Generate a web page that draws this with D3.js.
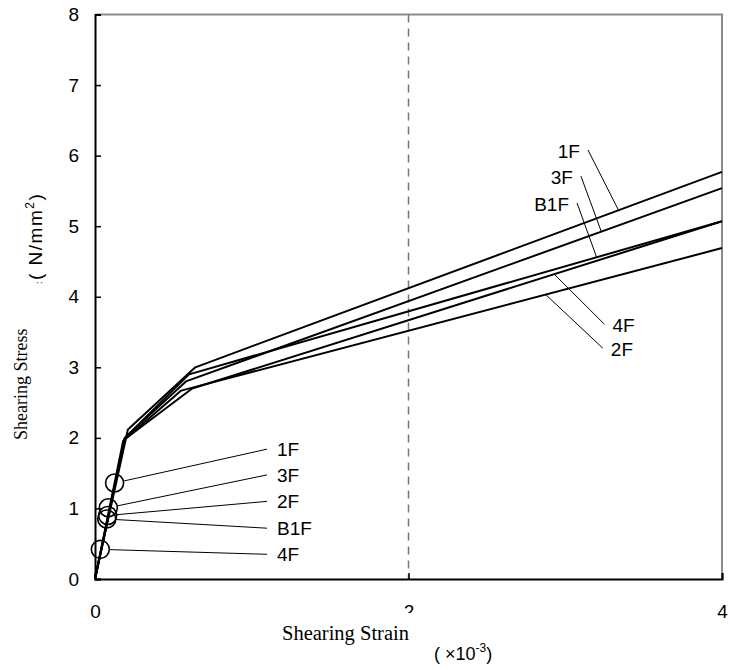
<!DOCTYPE html>
<meta charset="utf-8">
<style>
  body { margin: 0; background: #fff; }
  text { font-family: "Liberation Sans", Arial, sans-serif; }
  .serif { font-family: "Liberation Serif", "Times New Roman", serif; }
</style>
<svg width="730" height="670"></svg>
<script src="https://d3js.org/d3.v7.min.js"></script>
<script>
// floors and their tri-linear skeleton curves (strain x10^-3, stress N/mm2)
var floors = ["1F", "3F", "B1F", "4F", "2F"];
var strainPts = [
  [0, 0.21, 0.64, 4],
  [0, 0.19, 0.58, 4],
  [0, 0.19, 0.60, 4],
  [0, 0.19, 0.62, 4],
  [0, 0.18, 0.55, 4]
];
var stressPts = [
  [0, 2.12, 3.00, 5.77],
  [0, 2.00, 2.80, 5.54],
  [0, 2.00, 2.90, 5.07],
  [0, 1.98, 2.70, 5.07],
  [0, 1.96, 2.67, 4.69]
];

// cracking points (circles) and their labels
var crackFloors = ["1F", "3F", "2F", "B1F", "4F"];
var crackStrain = [0.125, 0.085, 0.081, 0.075, 0.034];
var crackStress = [1.36, 1.01, 0.90, 0.85, 0.42];
var crackLabelStrain = 1.097;
var crackLabelStress = [1.84, 1.475, 1.10, 0.72, 0.35];

// labels for the post-yield branches
var topFloors = ["1F", "3F", "B1F"];
var topLabelStrain = [3.145, 3.10, 3.075];
var topLabelStress = [6.08, 5.71, 5.33];
var topTargetStrain = [3.34, 3.23, 3.20];
var lowFloors = ["4F", "2F"];
var lowLabelStrain = [3.25, 3.24];
var lowLabelStress = [3.61, 3.27];
var lowTargetStrain = [2.93, 2.875];

var xTicks = [0, 2, 4];
var yTicks = [0, 1, 2, 3, 4, 5, 6, 7, 8];

var svg = d3.select("svg");
var x = d3.scaleLinear().domain([0, 4]).range([95, 722]);
var y = d3.scaleLinear().domain([0, 8]).range([579, 14.5]);

function stressAt(i, s) {
  var xs = strainPts[i], ys = stressPts[i];
  for (var k = 1; k < xs.length; k++) {
    if (s <= xs[k]) return ys[k-1] + (ys[k] - ys[k-1]) * (s - xs[k-1]) / (xs[k] - xs[k-1]);
  }
  return ys[ys.length - 1];
}

// frame: top + right in grey
svg.append("path")
    .attr("d", "M" + x(0) + "," + y(8) + "H" + x(4) + "V" + y(0))
    .attr("fill", "none").attr("stroke", "#8c8c8c").attr("stroke-width", 2);

// dashed line at strain 2
svg.append("line")
    .attr("x1", x(2)).attr("x2", x(2)).attr("y1", y(8)).attr("y2", y(0))
    .attr("stroke", "#777").attr("stroke-width", 1.5).attr("stroke-dasharray", "8,6");

// axes
var yAxis = svg.append("g").attr("transform", "translate(" + x(0) + ",0)")
    .call(d3.axisLeft(y).tickValues(yTicks).tickSize(-6).tickPadding(16).tickFormat(d3.format("d")));
var xAxis = svg.append("g").attr("transform", "translate(0," + y(0) + ")")
    .call(d3.axisBottom(x).tickValues(xTicks).tickSize(-6).tickPadding(26).tickFormat(d3.format("d")));
[xAxis, yAxis].forEach(function(a) {
  a.select(".domain").attr("stroke", "#000").attr("stroke-width", 2);
  a.selectAll(".tick line").attr("stroke", "#000").attr("stroke-width", 1.5);
  a.selectAll("text").attr("font-size", 19).attr("fill", "#000")
      .attr("font-family", "Liberation Sans, Arial, sans-serif");
});

// curves
var line = d3.line().x(function(d) { return x(d[0]); }).y(function(d) { return y(d[1]); });
svg.append("g").selectAll("path")
  .data(floors)
  .enter().append("path")
    .attr("d", function(d, i) { return line(d3.zip(strainPts[i], stressPts[i])); })
    .attr("fill", "none").attr("stroke", "#000").attr("stroke-width", 2)
    .attr("stroke-linejoin", "round");

// cracking circles + leaders
var r = 9;
var cg = svg.append("g");
crackFloors.forEach(function(f, i) {
  var cx = x(crackStrain[i]), cy = y(crackStress[i]);
  var lx = x(crackLabelStrain), ly = y(crackLabelStress[i]);
  var a = Math.atan2(ly - cy, lx - cx);
  cg.append("circle").attr("cx", cx).attr("cy", cy).attr("r", r)
      .attr("fill", "none").attr("stroke", "#000").attr("stroke-width", 1.6);
  cg.append("line")
      .attr("x1", cx + r * Math.cos(a)).attr("y1", cy + r * Math.sin(a))
      .attr("x2", lx).attr("y2", ly)
      .attr("stroke", "#000").attr("stroke-width", 1);
  cg.append("text").attr("x", lx + 10).attr("y", ly + 7)
      .attr("font-size", 19).text(f);
});

// upper labels
topFloors.forEach(function(f, i) {
  var idx = floors.indexOf(f);
  var tx = x(topTargetStrain[i]), ty = y(stressAt(idx, topTargetStrain[i]));
  var lx = x(topLabelStrain[i]), ly = y(topLabelStress[i]);
  svg.append("line").attr("x1", lx).attr("y1", ly).attr("x2", tx).attr("y2", ty)
      .attr("stroke", "#000").attr("stroke-width", 1);
  svg.append("text").attr("x", lx - 8).attr("y", ly + 8)
      .attr("text-anchor", "end").attr("font-size", 19).text(f);
});

// lower labels
lowFloors.forEach(function(f, i) {
  var idx = floors.indexOf(f);
  var tx = x(lowTargetStrain[i]), ty = y(stressAt(idx, lowTargetStrain[i]));
  var lx = x(lowLabelStrain[i]), ly = y(lowLabelStress[i]);
  svg.append("line").attr("x1", tx).attr("y1", ty).attr("x2", lx).attr("y2", ly)
      .attr("stroke", "#000").attr("stroke-width", 1);
  svg.append("text").attr("x", lx + 8).attr("y", ly + 8)
      .attr("font-size", 19).text(f);
});

// x title (box hides part of the "2" tick label)
svg.append("rect").attr("x", 276).attr("y", 613).attr("width", 142).attr("height", 36).attr("fill", "#fff");
svg.append("text").attr("class", "serif").attr("x", 282).attr("y", 640)
    .attr("font-size", 20.5).text("Shearing Strain");
var unitX = svg.append("text").attr("x", 434).attr("y", 660).attr("font-size", 18);
unitX.append("tspan").text("( ×10");
unitX.append("tspan").attr("dy", -8).attr("font-size", 12).text("-3");
unitX.append("tspan").attr("dy", 8).text(")");

// y title
svg.append("text").attr("class", "serif")
    .attr("transform", "translate(27,440) rotate(-90)")
    .attr("font-size", 18).text("Shearing Stress");
var unitY = svg.append("text")
    .attr("transform", "translate(42,284) rotate(-90)").attr("font-size", 19)
    .attr("letter-spacing", 1.5);
unitY.append("tspan").attr("font-size", 9).text(":");
unitY.append("tspan").text("( N/mm");
unitY.append("tspan").attr("dy", -8).attr("font-size", 12).text("2");
unitY.append("tspan").attr("dy", 8).text(")");
</script>
